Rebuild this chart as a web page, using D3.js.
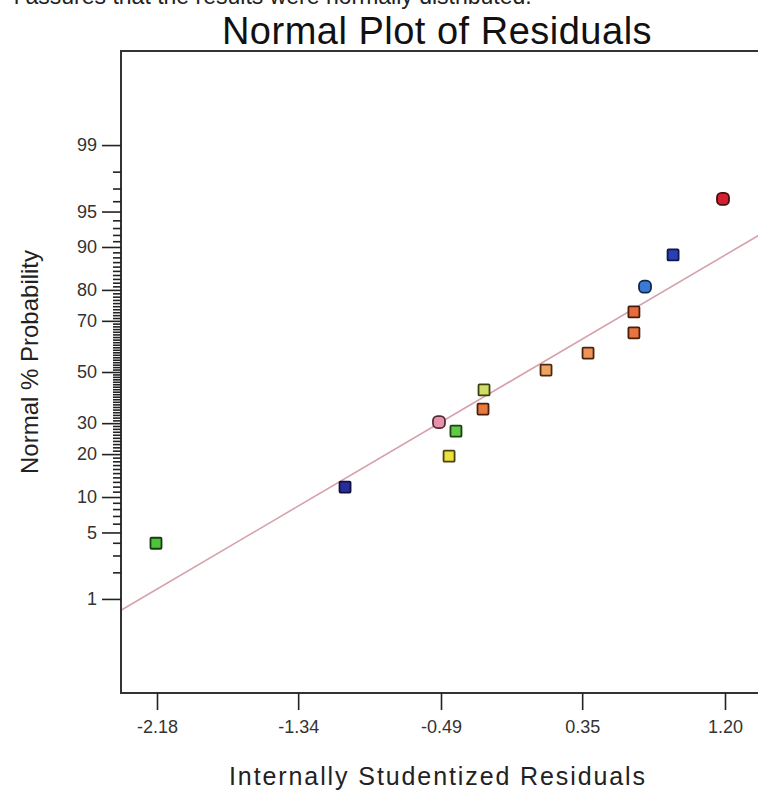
<!DOCTYPE html>
<html>
<head>
<meta charset="utf-8">
<script src="https://cdn.jsdelivr.net/npm/d3@7"></script>
<style>
  html, body { margin: 0; padding: 0; background: #fff; }
  svg { display: block; }
  text { font-family: "Liberation Sans", Arial, sans-serif; }
</style>
</head>
<body>
<svg id="chart" width="758" height="791"></svg>
<script>
// ---------- data ----------
const residuals     = [-2.186, -1.061, -0.502, -0.442, -0.401, -0.234, -0.240, 0.135, 0.385, 0.658, 0.658, 0.724, 0.891, 1.188];
const probabilities = [3.96, 11.9, 30.4, 19.4, 27.2, 42.7, 35.2, 50.8, 57.7, 65.6, 73.1, 80.9, 88.5, 96.2];
const pointKinds    = ["square","square","circle","square","square","square","square","square","square","square","square","circle","square","circle"];
const xTickValues   = [-2.18, -1.34, -0.49, 0.35, 1.20];
const xTickLabels   = ["-2.18", "-1.34", "-0.49", "0.35", "1.20"];
const yMajorProbs   = [1, 5, 10, 20, 30, 50, 70, 80, 90, 95, 99];
const yMajorLabels  = ["1", "5", "10", "20", "30", "50", "70", "80", "90", "95", "99"];
const yMinorProbs   = d3.range(2, 99).filter(p => !yMajorProbs.includes(p));
const fitResiduals  = [-2.394, 1.467];
const fitProbs      = [0.73, 92.9];

// ---------- style ----------
const markerFill = ["#4fc23c", "#2b2c9c", "#e394ab", "#ece23a", "#63c843", "#cfdc66", "#e97a3c", "#f0a464", "#ef9358", "#e9743e", "#e86c3a", "#3b7ad2", "#2a40b2", "#d2202e"];
const markerStroke = ["#173d10", "#10103e", "#5a2a38", "#4a4210", "#1c4210", "#3a4210", "#4a2010", "#4a2a10", "#4a2410", "#4a1e10", "#4a1c10", "#10284a", "#10184a", "#4a0a10"];

// inverse normal CDF (Acklam)
function probit(p) {
  const a = [-3.969683028665376e+01, 2.209460984245205e+02, -2.759285104469687e+02, 1.383577518672690e+02, -3.066479806614716e+01, 2.506628277459239e+00];
  const b = [-5.447609879822406e+01, 1.615858368580409e+02, -1.556989798598866e+02, 6.680131188771972e+01, -1.328068155288572e+01];
  const c = [-7.784894002430293e-03, -3.223964580411365e-01, -2.400758277161838e+00, -2.549732539343734e+00, 4.374664141464968e+00, 2.938163982698783e+00];
  const d = [7.784695709041462e-03, 3.224671290700398e-01, 2.445134137142996e+00, 3.754408661907416e+00];
  const plow = 0.02425, phigh = 1 - plow;
  let q, r;
  if (p < plow) {
    q = Math.sqrt(-2 * Math.log(p));
    return (((((c[0]*q+c[1])*q+c[2])*q+c[3])*q+c[4])*q+c[5]) / ((((d[0]*q+d[1])*q+d[2])*q+d[3])*q+1);
  } else if (p <= phigh) {
    q = p - 0.5; r = q * q;
    return (((((a[0]*r+a[1])*r+a[2])*r+a[3])*r+a[4])*r+a[5])*q / (((((b[0]*r+b[1])*r+b[2])*r+b[3])*r+b[4])*r+1);
  } else {
    q = Math.sqrt(-2 * Math.log(1 - p));
    return -(((((c[0]*q+c[1])*q+c[2])*q+c[3])*q+c[4])*q+c[5]) / ((((d[0]*q+d[1])*q+d[2])*q+d[3])*q+1);
  }
}

(function () {
const svg = d3.select("#chart");
const plotLeft = 121, plotTop = 51, plotBottom = 693, plotRight = 800;

const x = d3.scaleLinear().domain([-2.18, 1.20]).range([157, 725]);
const zLim = probit(0.9995);
const z = d3.scaleLinear().domain([-zLim, zLim]).range([plotBottom, plotTop]);
const yP = p => z(probit(p / 100));

// top caption (cut off at the top edge, as in the source image)
svg.append("text").attr("x", 14).attr("y", 4)
  .attr("font-size", 23).attr("fill", "#222")
  .text("l assures that the results were normally distributed.");

// title
svg.append("text").attr("x", 437).attr("y", 44).attr("text-anchor", "middle")
  .attr("font-size", 38).attr("letter-spacing", 0.5).attr("fill", "#111")
  .text("Normal Plot of Residuals");

// fit line
svg.append("line")
  .attr("x1", x(fitResiduals[0])).attr("y1", yP(fitProbs[0]))
  .attr("x2", x(fitResiduals[1])).attr("y2", yP(fitProbs[1]))
  .attr("stroke", "#d7a2ac").attr("stroke-width", 1.6);

// frame
svg.append("path")
  .attr("d", `M${plotRight},${plotTop} H${plotLeft} V${plotBottom} H${plotRight}`)
  .attr("fill", "none").attr("stroke", "#333").attr("stroke-width", 2);

// y minor ticks
const yMinor = svg.append("g").attr("transform", `translate(${plotLeft},0)`)
  .call(d3.axisLeft(z).tickValues(yMinorProbs.map(p => probit(p / 100))).tickSize(8).tickFormat(""));
yMinor.select(".domain").remove();
yMinor.selectAll("line").attr("stroke", "#222").attr("stroke-width", 1.6);

// y major ticks
const yMajor = svg.append("g").attr("transform", `translate(${plotLeft},0)`)
  .call(d3.axisLeft(z).tickValues(yMajorProbs.map(p => probit(p / 100))).tickSize(19).tickPadding(5)
    .tickFormat((dd, i) => yMajorLabels[i]));
yMajor.select(".domain").remove();
yMajor.selectAll("line").attr("stroke", "#222").attr("stroke-width", 1.6);
yMajor.selectAll("text").attr("font-size", 18).attr("fill", "#333")
  .attr("font-family", "Liberation Sans, Arial, sans-serif");

// x ticks
const xAxis = svg.append("g").attr("transform", `translate(0,${plotBottom})`)
  .call(d3.axisBottom(x).tickValues(xTickValues).tickSize(17).tickPadding(10)
    .tickFormat((dd, i) => xTickLabels[i]));
xAxis.select(".domain").remove();
xAxis.selectAll("line").attr("stroke", "#222").attr("stroke-width", 1.6);
xAxis.selectAll("text").attr("font-size", 18).attr("fill", "#333")
  .attr("font-family", "Liberation Sans, Arial, sans-serif");

// axis titles
svg.append("text").attr("x", 438).attr("y", 785).attr("text-anchor", "middle")
  .attr("font-size", 25).attr("letter-spacing", 1.9).attr("fill", "#222")
  .text("Internally Studentized Residuals");
svg.append("text").attr("transform", `translate(38,362) rotate(-90)`).attr("text-anchor", "middle")
  .attr("font-size", 24).attr("fill", "#222")
  .text("Normal % Probability");

// points
const pts = svg.append("g");
residuals.forEach((r, i) => {
  const cx = x(r), cy = yP(probabilities[i]);
  const s = pointKinds[i] === "circle" ? 12 : 11;
  pts.append("rect")
    .attr("x", cx - s / 2).attr("y", cy - s / 2)
    .attr("width", s).attr("height", s)
    .attr("rx", pointKinds[i] === "circle" ? 4.5 : 1)
    .attr("fill", markerFill[i]).attr("stroke", markerStroke[i]).attr("stroke-width", 1.8);
});
})();
</script>
</body>
</html>
